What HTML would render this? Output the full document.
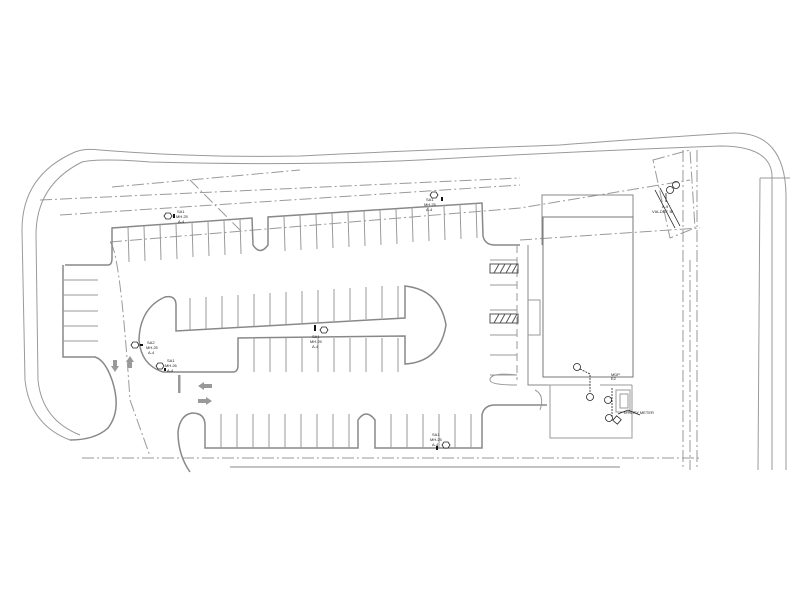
<!DOCTYPE html>
<html><head><meta charset="utf-8"><style>
html,body{margin:0;padding:0;background:#fff;}
svg{display:block;}
text{font-family:"Liberation Sans",sans-serif;fill:#222;}
</style></head><body>
<svg width="800" height="600" viewBox="0 0 800 600" xmlns="http://www.w3.org/2000/svg">
<g fill="none" stroke="#9a9a9a" stroke-width="1">
<!-- outer road -->
<path d="M70,440 Q30,425 25,380 L22,230 Q22,175 75,152 Q85,148 100,150 Q200,158 300,156 Q420,150 560,145 Q680,136 733,133 Q785,132 786,195 L786,470"/>
<path d="M80,435 Q42,420 38,380 L36,235 Q36,185 82,162 Q100,158 150,162 Q300,166 420,160 Q560,152 720,146 Q770,146 772,175 L772,470"/>
<path d="M760,178 L790,178 M760,178 L758,470"/>
<!-- right dash-dot lines -->
<g stroke-dasharray="12,3,2,3">
<path d="M683,150 L683,470 M697,150 L697,470 M690,260 L690,470"/>
<path d="M82,458 L700,458"/>
<path d="M110,242 L520,208 L690,180"/>
<path d="M40,200 L520,178 M60,215 L520,185 M110,242 Q120,250 130,400 L150,456"/>
<path d="M112,187 L300,170 M190,180 L240,230"/>
<path d="M520,240 L700,228"/>
<path d="M653,160 L690,150 L695,228 L670,238 Z"/>
</g>
<!-- top parking row outline -->
<path d="M65,265 L108,265 Q112,265 112,258 L112,228 L252,218 L253,245 Q260,256 268,245 L268,217 L482,203 L483,236 Q485,245 495,245 L520,245" stroke="#888" stroke-width="1.5"/>
<path d="M63,265 L63,357 L95,357 Q105,360 112,380 Q122,410 108,428 Q95,440 70,440" stroke="#888" stroke-width="1.5"/>
<!-- left row stalls -->
<path d="M63,280 L98,280 M63,295 L98,295 M63,311 L98,311 M63,326 L98,326 M63,341 L98,341"/>
<!-- top row stalls -->
<path d="M128,227 L129,262 M144,226 L145,261 M160,225 L161,260 M176,224 L177,259 M192,222 L193,257 M208,221 L209,256 M224,220 L225,255 M240,219 L241,254 M284,216 L285,251 M300,215 L301,250 M316,214 L317,249 M332,213 L333,248 M348,212 L349,247 M364,211 L365,246 M380,210 L381,245 M396,209 L397,244 M412,207 L413,242 M428,206 L429,241 M444,205 L445,240 M460,204 L461,239 M476,203 L477,238"/>
<!-- island -->
<path d="M176,331 L176,305 Q176,295 165,297 Q140,308 139,340 Q141,365 163,372 L233,372 Q238,372 238,365 L238,338 L405,336 L405,364 Q440,362 446,325 Q440,290 405,286 L405,318 Z" stroke="#888" stroke-width="1.5"/>
<path d="M190,330 L190,298 M206,329 L206,297 M222,328 L222,296 M238,327 L238,295 M254,326 L254,294 M270,325 L270,293 M286,324 L286,292 M302,323 L302,291 M318,322 L318,290 M334,321 L334,289 M350,320 L350,288 M366,319 L366,287 M382,318 L382,286 M398,318 L398,286"/>
<path d="M254,338 L254,372 M270,338 L270,372 M286,338 L286,372 M302,338 L302,372 M318,338 L318,372 M334,338 L334,372 M350,338 L350,372 M366,338 L366,372 M382,338 L382,372 M398,338 L398,372"/>
<!-- bottom row -->
<path d="M190,472 Q178,455 178,432 Q180,415 192,413 Q205,413 205,425 L205,448 L358,448 L358,420 Q366,408 375,420 L375,448 L482,448 L482,415 Q484,405 495,405 L547,405" stroke="#888" stroke-width="1.5"/>
<path d="M221,414 L221,448 M237,414 L237,448 M253,414 L253,448 M269,414 L269,448 M285,414 L285,448 M301,414 L301,448 M317,414 L317,448 M333,414 L333,448 M349,414 L349,448 M391,414 L391,448 M407,414 L407,448 M423,414 L423,448 M439,414 L439,448 M455,414 L455,448 M471,414 L471,448"/>
<path d="M230,467 L620,467" stroke="#888"/>
<!-- stalls by building -->
<path d="M517,245 L517,380" stroke-dasharray="8,4"/>
<path d="M490,260 L517,260 M490,285 L517,285 M490,310 L517,310 M490,335 L517,335 M490,355 L517,355"/>
<path d="M490,375 L517,375 Q490,372 490,380 Q490,385 517,385"/>
<!-- building -->
<path d="M528,245 L528,385 L548,385 M542,245 L542,195 L633,195 L633,377" stroke="#888"/>
<path d="M543,217 L633,217 L633,377 L543,377 Z" stroke="#777"/>
<path d="M550,385 L550,438 L632,438 L632,385 M548,385 L590,385 M600,385 L632,385"/>
<path d="M528,300 L540,300 L540,335 L528,335"/>
<path d="M616,390 L630,390 L630,412 L616,412 Z M620,394 L628,394 L628,408 L620,408 Z"/>
<path d="M535,390 Q545,395 540,410"/>
</g>
<!-- hatched boxes -->
<g stroke="#555" fill="none" stroke-width="1">
<rect x="490" y="264" width="28" height="9"/>
<rect x="490" y="314" width="28" height="9"/>
<path d="M494,273 L499,264 M500,273 L505,264 M506,273 L511,264 M512,273 L517,264"/>
<path d="M494,323 L499,314 M500,323 L505,314 M506,323 L511,314 M512,323 L517,314"/>
</g>
<!-- arrows -->
<g fill="#999">
<polygon points="198,386 204,382 204,384 212,384 212,388 204,388 204,390"/>
<polygon points="212,401 206,397 206,399 198,399 198,403 206,403 206,405"/>
<polygon points="130,356 134,362 132,362 132,368 128,368 128,362 126,362"/>
<polygon points="115,372 111,366 113,366 113,360 117,360 117,366 119,366"/>
<rect x="178" y="375" width="2.5" height="18"/>
</g>
<!-- tags -->
<g stroke="#222" fill="#fff" stroke-width="0.8">
<polygon points="164,216 166,213 170,213 172,216 170,219 166,219"/>
<polygon points="430,195 432,192 436,192 438,195 436,198 432,198"/>
<polygon points="131,345 133,342 137,342 139,345 137,348 133,348"/>
<polygon points="156,366 158,363 162,363 164,366 162,369 158,369"/>
<polygon points="320,330 322,327 326,327 328,330 326,333 322,333"/>
<polygon points="442,445 444,442 448,442 450,445 448,448 444,448"/>
</g>
<g fill="none" stroke="#222" stroke-width="0.8">
<circle cx="577" cy="367" r="3.5"/><circle cx="590" cy="397" r="3.5"/>
<circle cx="608" cy="400" r="3.5"/><circle cx="609" cy="418" r="3.5"/>
<circle cx="676" cy="185" r="3.5"/><circle cx="670" cy="190" r="3.5"/>
<path d="M580,369 L590,374 L590,393" stroke-dasharray="2,1"/>
<path d="M612,388 L612,418" stroke-dasharray="2,1"/>
<path d="M618,414 L628,410 L640,415" />
<rect x="614" y="417" width="6" height="6" transform="rotate(40 617 420)"/>
<path d="M666,193 L666,202"/>
<path d="M655,190 L675,228 M660,188 L680,226"/>
</g>
<g fill="#111">
<rect x="173" y="214" width="2" height="4"/><rect x="441" y="197" width="2" height="4"/>
<rect x="140" y="344" width="3" height="2"/><rect x="164" y="368" width="2" height="3"/>
<rect x="314" y="325" width="2" height="6"/><rect x="436" y="446" width="2" height="4"/>
</g>
<g font-size="4">
<text x="177" y="213">SA1</text><text x="176" y="218">MH.25</text><text x="178" y="223">A-4</text>
<text x="426" y="201">SA1</text><text x="424" y="206">MH.25</text><text x="426" y="211">A-4</text>
<text x="147" y="344">SA2</text><text x="146" y="349">MH.25</text><text x="148" y="354">A-4</text>
<text x="167" y="362">SA1</text><text x="165" y="367">MH.26</text><text x="167" y="372">A-4</text>
<text x="312" y="338">SA1</text><text x="310" y="343">MH.25</text><text x="312" y="348">A-4</text>
<text x="432" y="436">SA1</text><text x="430" y="441">MH.25</text><text x="432" y="446">A-4</text>
<text x="611" y="376">MDP</text><text x="611" y="380">E2</text>
<text x="624" y="414">UTILITY METER</text>
<text x="662" y="208">A-9</text><text x="652" y="213">VIA-DEF 'A'</text>
</g>
</svg>
</body></html>
